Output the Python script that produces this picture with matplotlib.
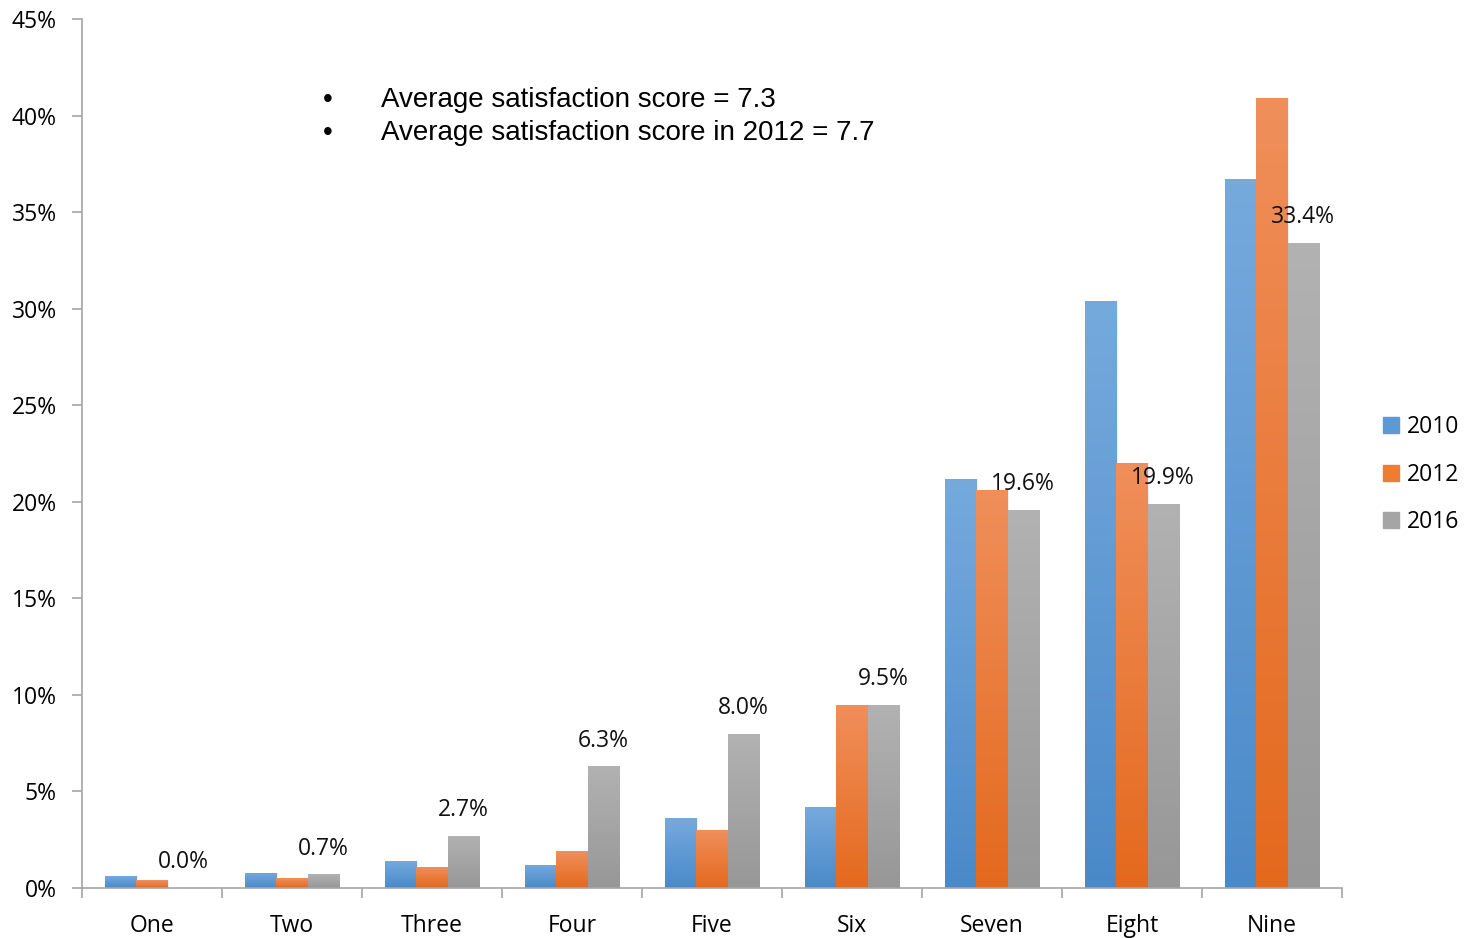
import numpy as np
import matplotlib
matplotlib.use("Agg")
import matplotlib.pyplot as plt
from matplotlib.colors import LinearSegmentedColormap
from matplotlib.ticker import FixedLocator, PercentFormatter

categories = ["One", "Two", "Three", "Four", "Five", "Six", "Seven", "Eight", "Nine"]
years = ["2010", "2012", "2016"]
v2010 = [0.6, 0.8, 1.4, 1.2, 3.6, 4.2, 21.2, 30.4, 36.7]
v2012 = [0.4, 0.5, 1.1, 1.9, 3.0, 9.5, 20.6, 22.0, 40.9]
v2016 = [0.0, 0.7, 2.7, 6.3, 8.0, 9.5, 19.6, 19.9, 33.4]
notes = ["Average satisfaction score = 7.3",
         "Average satisfaction score in 2012 = 7.7"]

# (top colour, bottom colour) for the excel-ish gradient
grads = [("#76aadd", "#4a89c9"), ("#f08f5b", "#e4691d"), ("#b2b2b2", "#979797")]
solid = ["#5b9bd5", "#ed7d31", "#a5a5a5"]

plt.rcParams['font.family'] = ['Open Sans', 'DejaVu Sans']
fig = plt.figure(figsize=(14.72, 9.38), dpi=100)
ax = fig.add_axes([0.0557, 0.0533, 0.856, 0.9264])

x = np.arange(len(categories))
w = 0.222
series = [v2010, v2012, v2016]
for i, vals in enumerate(series):
    cmap = LinearSegmentedColormap.from_list("g%d" % i, [grads[i][1], grads[i][0]])
    bars = ax.bar(x + (i - 1) * w, vals, w, color="none", edgecolor="none", label=years[i])
    for b in bars:
        h = b.get_height()
        if h <= 0:
            continue
        grad = np.linspace(0, 1, 256).reshape(-1, 1)
        im = ax.imshow(grad, cmap=cmap, origin="lower", aspect="auto",
                       extent=[b.get_x(), b.get_x() + w, 0, h], zorder=2)
        im.set_clip_path(b)
        # soft shadow on the right
        ax.bar(b.get_x() + w * 0.5 + 0.012, h, w, color="#000000", alpha=0.06,
               zorder=1, linewidth=0)

# labels on 2016 bars only
for xi, v in zip(x, v2016):
    ax.annotate("%.1f%%" % v, (xi + w, v), xytext=(0, 18.5), textcoords="offset points",
                ha="center", va="center", fontsize=16.5, color="#111111", zorder=5)

ax.set_xlim(-0.5, len(categories) - 0.5)
ax.set_ylim(0, 45)
ax.yaxis.set_major_locator(FixedLocator(np.arange(0, 46, 5)))
ax.yaxis.set_major_formatter(PercentFormatter(decimals=0))
ax.set_xticks(x)
ax.set_xticklabels(categories)
ax.xaxis.set_minor_locator(FixedLocator(np.arange(-0.5, len(categories), 1.0)))
ax.tick_params(axis="x", which="major", length=0, pad=19, labelsize=16.5)
ax.tick_params(axis="x", which="minor", length=7, color="#a6a6a6", width=1.2)
ax.tick_params(axis="y", length=7, color="#a6a6a6", width=1.2, labelsize=16.5, pad=11)
for s in ["top", "right"]:
    ax.spines[s].set_visible(False)
for s in ["left", "bottom"]:
    ax.spines[s].set_color("#a6a6a6")
    ax.spines[s].set_linewidth(1.2)

# bullet text
for k, t in enumerate(notes):
    ty = 0.893 - k * 0.035
    fig.text(0.2195, ty, "\u2022", fontsize=20, family="Liberation Sans", va="center")
    fig.text(0.2588, ty, t, fontsize=20, family="Liberation Sans", va="center")

# legend
handles = [plt.Rectangle((0, 0), 1, 1, color=c) for c in solid]
fig.legend(handles, years, loc="center left", bbox_to_anchor=(0.9395, 0.494),
           frameon=False, fontsize=16.5, handlelength=0.7, handleheight=0.7,
           handletextpad=0.35, labelspacing=1.02, borderpad=0, borderaxespad=0)

fig.savefig("out.png", dpi=100)
